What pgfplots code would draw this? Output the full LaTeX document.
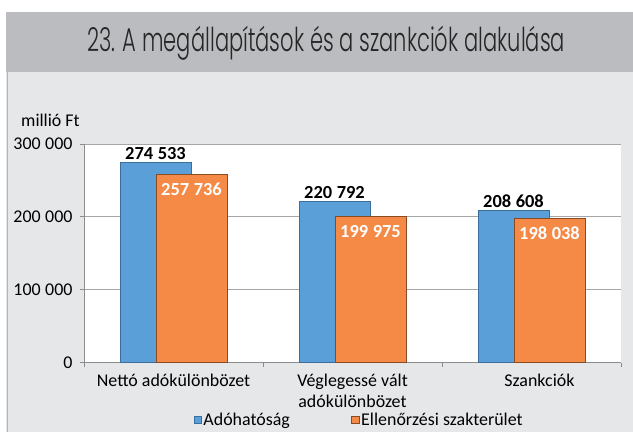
\documentclass[border=0pt]{standalone}
\usepackage{fontspec}
\setmainfont{Carlito}
\newfontfamily\titlefont{Poppins Light}
\usepackage{graphicx}
\usepackage{pgfplots}
\pgfplotsset{compat=1.18}
\definecolor{titlebar}{HTML}{BBBCBF}
\definecolor{panel}{HTML}{E6E7E9}
\definecolor{panelborder}{HTML}{B4B5B8}
\definecolor{barblue}{HTML}{5B9FD8}
\definecolor{barblueedge}{HTML}{3B6E9C}
\definecolor{barorange}{HTML}{F58A47}
\definecolor{barorangeedge}{HTML}{8A4A22}
\definecolor{axisgray}{HTML}{8C8C8C}
\definecolor{gridgray}{HTML}{A6A6A6}
\begin{document}
\begin{tikzpicture}
\path[use as bounding box] (0,0) rectangle (633bp,432bp);
\fill[white] (0,0) rectangle (633bp,432bp);
\fill[panel] (6bp,0) rectangle (633bp,360bp);
\draw[panelborder, line width=0.8bp] (7bp,0) -- (7bp,360bp);
\fill[titlebar] (6bp,360bp) rectangle (633bp,420bp);
\node[anchor=base, inner sep=0pt, text=black!85] at (326bp,380bp)
  {\resizebox{478bp}{\height}{\fontsize{33}{40}\titlefont 23. A megállapítások és a szankciók alakulása}};
\node[anchor=base west, inner sep=0pt, font=\fontsize{18}{21}\selectfont] at (21bp,305bp) {millió Ft};
\begin{axis}[
  at={(84bp,69.5bp)}, anchor=south west,
  scale only axis, width=537bp, height=218.5bp,
  axis background/.style={fill=white},
  xmin=-0.5, xmax=2.5, ymin=0, ymax=300000,
  axis lines*=left,
  axis line style={draw=axisgray, line width=0.8bp},
  ymajorgrids, grid style={draw=gridgray, line width=0.8bp},
  ytick={0,100000,200000,300000},
  scaled y ticks=false,
  tick align=outside, major tick length=4bp,
  tick style={draw=axisgray, line width=0.8bp},
  xtick={0,1,2},
  xticklabels={Nettó adókülönbözet, Véglegessé vált\\[2.5bp]adókülönbözet, \hspace*{16bp}Szankciók},
  xtick style={draw=none},
  extra x ticks={-0.5,0.5,1.5,2.5},
  extra x tick labels={},
  extra x tick style={xtick style={draw=axisgray}},
  xticklabel style={font=\fontsize{18}{19}\selectfont, align=center, anchor=north, yshift=-4bp},
  yticklabel style={font=\fontsize{18}{21}\selectfont, anchor=east, xshift=-4bp,
    /pgf/number format/.cd, fixed, precision=0, 1000 sep={\hspace{0.25em}}, assume math mode=true},
  ybar, bar width=71bp,
  legend style={at={(0.512,-0.263)}, anchor=center, draw=none, fill=none,
    font=\fontsize{18}{21}\selectfont, inner sep=0pt,
    nodes={inner sep=1.5bp},
    /tikz/every even column/.append style={column sep=60bp}},
  legend columns=2,
  legend image code/.code={\fill[#1] (0bp,-3.5bp) rectangle (7.5bp,3.5bp);},
]
\addplot[bar shift=-18bp, fill=barblue, draw=barblueedge, line width=0.8bp,
  nodes near coords={\pgfmathprintnumber[fixed,precision=0,1000 sep={\hspace{0.25em}},assume math mode=true]{\pgfplotspointmeta}},
  nodes near coords style={font=\fontsize{18.5}{21}\selectfont\bfseries, text=black, anchor=base, inner sep=0pt, yshift=3.5bp}]
  coordinates {(0,274533) (1,220792) (2,208608)};
\addlegendentry{Adóhatóság}
\addplot[bar shift=18bp, fill=barorange, draw=barorangeedge, line width=0.8bp,
  nodes near coords={\pgfmathprintnumber[fixed,precision=0,1000 sep={\hspace{0.25em}},assume math mode=true]{\pgfplotspointmeta}},
  nodes near coords style={font=\fontsize{18.5}{21}\selectfont\bfseries, text=white, anchor=base, inner sep=0pt, yshift=-21bp}]
  coordinates {(0,257736) (1,199975) (2,198038)};
\addlegendentry{Ellenőrzési szakterület}
\end{axis}
\end{tikzpicture}
\end{document}
